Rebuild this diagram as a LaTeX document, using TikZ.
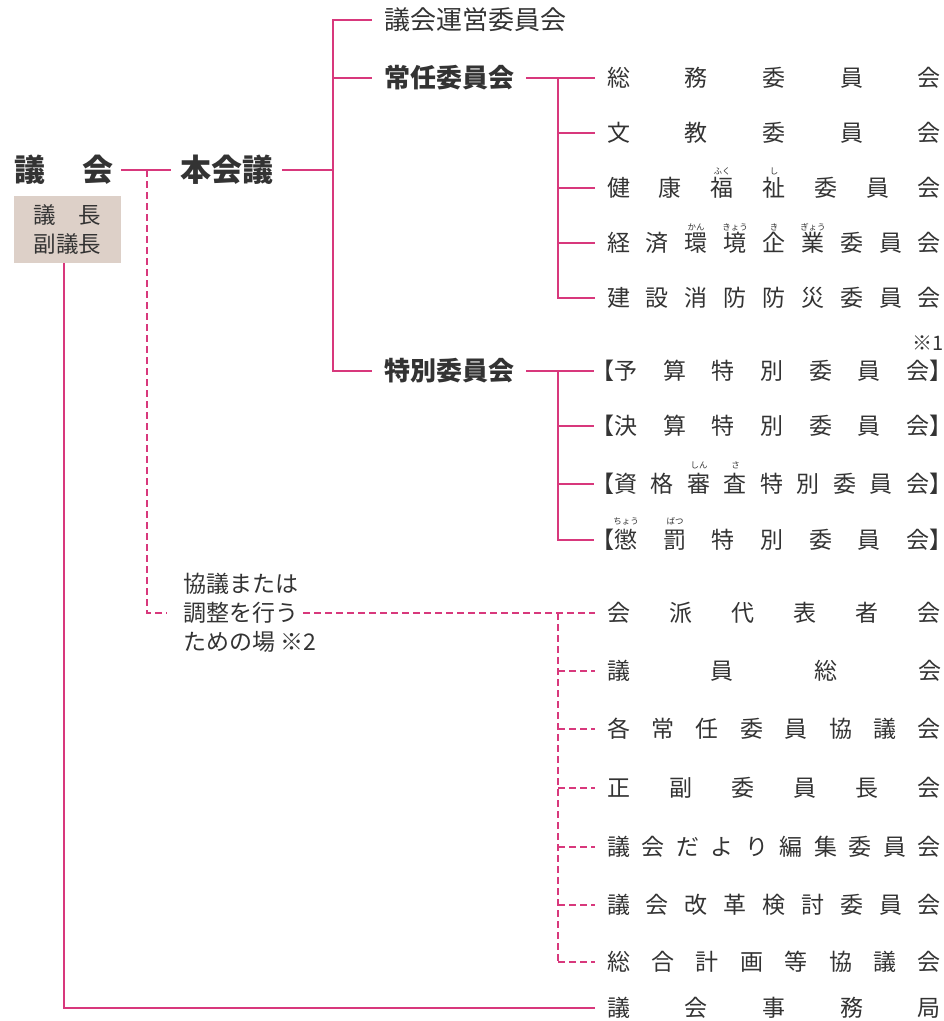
\documentclass[tikz,border=0pt]{standalone}
\usepackage{fontspec}
\setmainfont{Noto Sans CJK JP}
\usetikzlibrary{calc}
\definecolor{lc}{RGB}{216,56,124}
\definecolor{bx}{RGB}{221,208,200}
\definecolor{tx}{RGB}{51,51,51}
\newcommand{\sprd}[2]{\makebox[#1pt][s]{#2}}
\newcommand{\lbr}{\makebox[11.5pt][r]{\addfontfeature{RawFeature=+halt}【}}
\newcommand{\rbr}{\makebox[11.5pt][l]{\addfontfeature{RawFeature=+halt}】}}
\tikzset{
  ln/.style={draw=lc, line width=2.2pt},
  dl/.style={draw=lc, line width=2.2pt, dash pattern=on 7pt off 4pt},
  row/.style={inner xsep=12pt, inner ysep=0pt, text=tx, font=\fontsize{23}{28}\selectfont},
  brow/.style={inner xsep=8.5pt, inner ysep=0pt, text=tx, font=\fontsize{23}{28}\selectfont},
  ruby/.style={inner sep=0pt, text=tx, font=\fontsize{8.5}{10}\selectfont},
  head/.style={inner xsep=12pt, inner ysep=0pt, text=tx, font=\bfseries\fontsize{26}{30}\selectfont},
  note/.style={inner xsep=5pt, inner ysep=0pt, text=tx, font=\fontsize{23}{29}\selectfont, anchor=west},
}
\begin{document}
\begin{tikzpicture}[x=1pt,y=-1pt]
\useasboundingbox (0,0) rectangle (944,1021);

% left column
\node[inner xsep=7pt, inner ysep=0pt, text=tx, font=\bfseries\fontsize{31}{36}\selectfont] (gikai) at (64,170) {\sprd{100}{議\hfill 会}};
\node[fill=bx, minimum width=107pt, minimum height=67pt, inner sep=0pt, text=tx, font=\fontsize{22.5}{29}\selectfont, align=center] (gichou) at (67.5,229.5) {\sprd{67.5}{議\hfill 長}\\副議長};
\node[head, font=\bfseries\fontsize{31}{36}\selectfont, inner xsep=9pt] (honkaigi) at (226.5,170) {本会議};

\coordinate (j1) at (147,170);
\coordinate (jm) at (333,170);
\draw[ln] (gikai.east) -- (honkaigi.west);
\draw[ln] (honkaigi.east) -- (jm);

% headings
\node[head, anchor=west, font=\fontsize{26}{30}\selectfont] (unei) at (372,20) {議会運営委員会};
\node[head, anchor=west] (jounin) at (372,78) {常任委員会};
\node[head, anchor=west] (tokubetsu) at (372,371) {特別委員会};
\draw[ln] (jm) |- (unei.west);
\draw[ln] (jm) |- (jounin.west);
\draw[ln] (jm) |- (tokubetsu.west);

% standing committees
\node[row] (s1) at (774,78) {\sprd{334}{総\hfill 務\hfill 委\hfill 員\hfill 会}};
\node[row] (s2) at (774,133) {\sprd{334}{文\hfill 教\hfill 委\hfill 員\hfill 会}};
\node[row] (s3) at (774,188) {\sprd{334}{健\hfill 康\hfill 福\hfill 祉\hfill 委\hfill 員\hfill 会}};
\node[row] (s4) at (774,243) {\sprd{334}{経\hfill 済\hfill 環\hfill 境\hfill 企\hfill 業\hfill 委\hfill 員\hfill 会}};
\node[row] (s5) at (774,298) {\sprd{334}{建\hfill 設\hfill 消\hfill 防\hfill 防\hfill 災\hfill 委\hfill 員\hfill 会}};
\node[ruby] (r1) at (722,171) {ふく};
\node[ruby] (r2) at (774,171) {し};
\node[ruby] (r3) at (696,227) {かん};
\node[ruby] (r4) at (735,227) {きょう};
\node[ruby] (r5) at (774,227) {き};
\node[ruby] (r6) at (813,227) {ぎょう};

\coordinate (j3) at (558,78);
\draw[ln] (jounin.east) -- (s1.west);
\draw[ln] (j3) |- (s2.west);
\draw[ln] (j3) |- (s3.west);
\draw[ln] (j3) |- (s4.west);
\draw[ln] (j3) |- (s5.west);

% special committees
\node[inner sep=0pt, text=tx, font=\fontsize{20}{24}\selectfont] (n1) at (928,343) {※1};
\node[brow] (t1) at (772,371) {\lbr\sprd{315}{予\hfill 算\hfill 特\hfill 別\hfill 委\hfill 員\hfill 会}\rbr};
\node[brow] (t2) at (772,426) {\lbr\sprd{315}{決\hfill 算\hfill 特\hfill 別\hfill 委\hfill 員\hfill 会}\rbr};
\node[brow] (t3) at (772,484) {\lbr\sprd{315}{資\hfill 格\hfill 審\hfill 査\hfill 特\hfill 別\hfill 委\hfill 員\hfill 会}\rbr};
\node[brow] (t4) at (772,540) {\lbr\sprd{315}{懲\hfill 罰\hfill 特\hfill 別\hfill 委\hfill 員\hfill 会}\rbr};
\node[ruby] (r7) at (699,465) {しん};
\node[ruby] (r8) at (735.5,465) {さ};
\node[ruby] (r9) at (626,521) {ちょう};
\node[ruby] (r10) at (675,521) {ばつ};

\coordinate (j4) at (558,371);
\draw[ln] (tokubetsu.east) -- (t1.west);
\draw[ln] (j4) |- (t2.west);
\draw[ln] (j4) |- (t3.west);
\draw[ln] (j4) |- (t4.west);

% consultation
\node[note] (k1) at (178,584) {協議または};
\node[note] (k2) at (178,613) {調整を行う};
\node[note] (k3) at (178,642) {ための場 ※2};
\draw[dl, shorten >=11pt] (j1) |- (k2.west);

\node[row] (d1) at (774,613) {\sprd{334}{会\hfill 派\hfill 代\hfill 表\hfill 者\hfill 会}};
\node[row] (d2) at (774,671) {\sprd{334}{議\hfill 員\hfill 総\hfill 会}};
\node[row] (d3) at (774,729) {\sprd{334}{各\hfill 常\hfill 任\hfill 委\hfill 員\hfill 協\hfill 議\hfill 会}};
\node[row] (d4) at (774,788) {\sprd{334}{正\hfill 副\hfill 委\hfill 員\hfill 長\hfill 会}};
\node[row] (d5) at (774,847) {\sprd{334}{議\hfill 会\hfill だ\hfill よ\hfill り\hfill 編\hfill 集\hfill 委\hfill 員\hfill 会}};
\node[row] (d6) at (774,905) {\sprd{334}{議\hfill 会\hfill 改\hfill 革\hfill 検\hfill 討\hfill 委\hfill 員\hfill 会}};
\node[row] (d7) at (774,962) {\sprd{334}{総\hfill 合\hfill 計\hfill 画\hfill 等\hfill 協\hfill 議\hfill 会}};

\coordinate (jd) at (558,613);
\draw[dl] (k2.east) -- (d1.west);
\draw[dl] (jd) -- (jd |- d7.west);
\draw[dl] (jd |- d2.west) -- (d2.west);
\draw[dl] (jd |- d3.west) -- (d3.west);
\draw[dl] (jd |- d4.west) -- (d4.west);
\draw[dl] (jd |- d5.west) -- (d5.west);
\draw[dl] (jd |- d6.west) -- (d6.west);
\draw[dl] (jd |- d7.west) -- (d7.west);

% secretariat
\node[row] (jimu) at (774,1008) {\sprd{334}{議\hfill 会\hfill 事\hfill 務\hfill 局}};
\draw[ln] ($(gichou.south)+(-3.5,0)$) |- (jimu.west);
\end{tikzpicture}
\end{document}
